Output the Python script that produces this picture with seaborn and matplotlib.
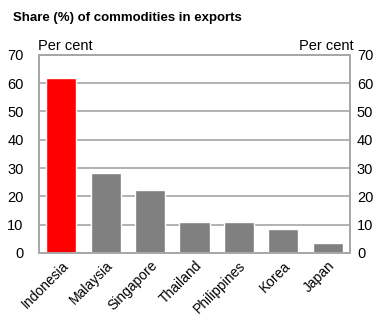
import matplotlib
matplotlib.use("Agg")
import matplotlib.pyplot as plt
import seaborn as sns
import pandas as pd
import numpy as np

countries = ["Indonesia", "Malaysia", "Singapore", "Thailand", "Philippines", "Korea", "Japan"]
shares = [62, 28.2, 22.3, 11, 11, 8.6, 3.6]
colors = ["#ff0000", "#808080", "#808080", "#808080", "#808080", "#808080", "#808080"]
yticks = [0, 10, 20, 30, 40, 50, 60, 70]

sns.set_style("white")
plt.rcParams['font.family'] = ['Liberation Sans', 'DejaVu Sans']
plt.rcParams['text.color'] = 'black'
plt.rcParams['xtick.color'] = 'black'
plt.rcParams['ytick.color'] = 'black'

df = pd.DataFrame({"country": countries, "share": shares})

fig = plt.figure(figsize=(3.8, 3.19), dpi=100)
ax = fig.add_axes([0.1026, 0.207, 0.8184, 0.621])
sns.barplot(data=df, x="country", y="share", hue="country", palette=colors,
            legend=False, width=0.68, ax=ax, saturation=1)
ax.set_ylim(0, 70)
ax.set_xlim(-0.5, len(countries) - 0.5)
ax.set_yticks(yticks)
ax.set_yticklabels([str(t) for t in yticks], fontsize=10.5)
ax.yaxis.grid(True, color="#a6a6a6", linewidth=1.2)
ax.set_axisbelow(True)
ax.tick_params(axis="y", length=0, pad=11)
ax2 = ax.twinx()
ax2.set_ylim(0, 70)
ax2.set_yticks(yticks)
ax2.set_yticklabels([str(t) for t in yticks], fontsize=10.5)
ax2.tick_params(axis="y", length=0, pad=5)
ax.set_xticks(np.arange(len(countries)))
ax.set_xticklabels(countries, rotation=45, ha="right", rotation_mode="anchor", fontsize=10)
ax.tick_params(axis="x", length=0, pad=4)
ax.set_xticks(np.arange(len(countries) + 1) - 0.5, minor=True)
ax.tick_params(axis="x", which="minor", length=4, color="#a6a6a6", width=1.2, direction="out")
for a in (ax, ax2):
    for s in a.spines.values():
        s.set_color("#a6a6a6")
        s.set_linewidth(1.2)
ax.set_xlabel("")
ax.set_ylabel("")
fig.text(0.035, 0.945, "Share (%) of commodities in exports", fontsize=9.5, fontweight="bold", va="center")
fig.text(0.1, 0.855, "Per cent", fontsize=10.5, va="center")
fig.text(0.93, 0.855, "Per cent", fontsize=10.5, va="center", ha="right")
fig.savefig("out.png", dpi=100)
